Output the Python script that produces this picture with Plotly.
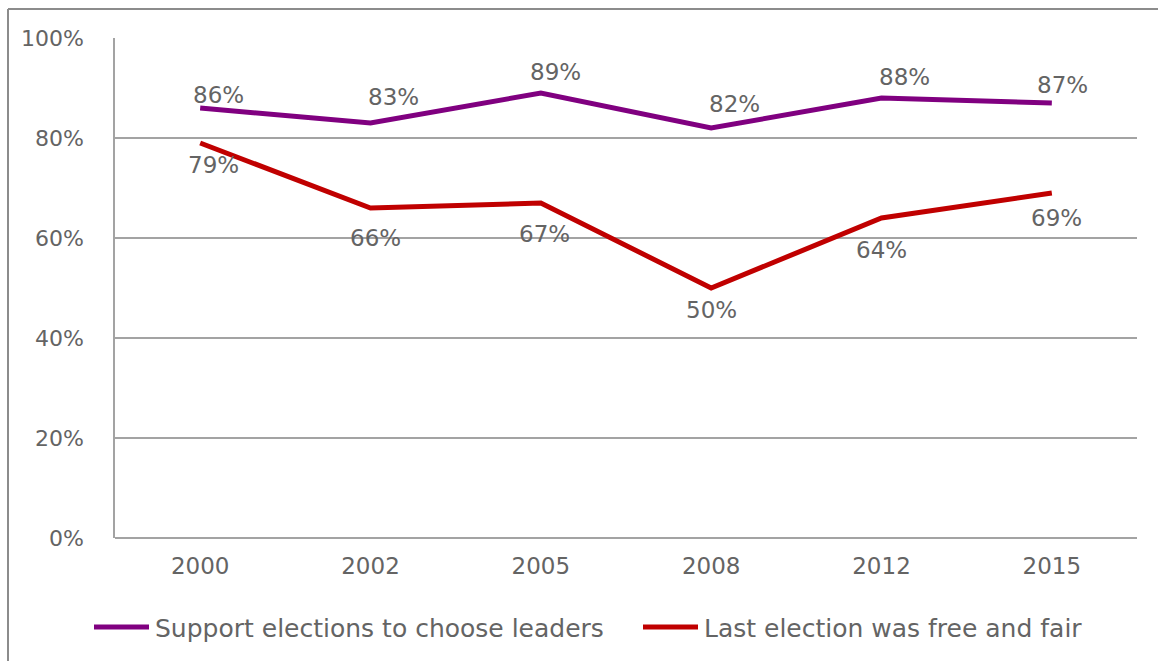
import plotly.graph_objects as go

years = ["2000", "2002", "2005", "2008", "2012", "2015"]
support_elections = [86, 83, 89, 82, 88, 87]
free_and_fair = [79, 66, 67, 50, 64, 69]
y_ticks = [0, 20, 40, 60, 80, 100]
y_tick_labels = ["0%", "20%", "40%", "60%", "80%", "100%"]

W, H = 1158, 661
L, R, T, B = 115, 21, 38, 123
pw, ph = W - L - R, H - T - B

def px(x):
    return (x - L) / pw

def py(y):
    return (H - B - y) / ph

FONT = "DejaVu Sans"
GRAY_TEXT = "#646464"
GRID = "#a3a3a3"
PURPLE = "#800080"
RED = "#C00000"

# label offsets in pixels (right, down) from each point
support_offsets = [(18, -13), (23, -26), (15, -21), (23, -24), (23, -21), (11, -18)]
fair_offsets = [(13, 22), (5, 30), (4, 31), (0, 22), (0, 32), (5, 25)]

fig = go.Figure()
fig.add_trace(go.Scatter(
    x=years, y=support_elections, mode="lines",
    name="Support elections to choose leaders",
    line=dict(color=PURPLE, width=5), showlegend=False,
))
fig.add_trace(go.Scatter(
    x=years, y=free_and_fair, mode="lines",
    name="Last election was free and fair",
    line=dict(color=RED, width=5), showlegend=False,
))

annotations = []
for vals, offs in ((support_elections, support_offsets), (free_and_fair, fair_offsets)):
    # category axis position = index of the year
    for i, (v, (dx, dy)) in enumerate(zip(vals, offs)):
        annotations.append(dict(
            x=i, y=v, xref="x", yref="y", text=f"{v}%", showarrow=False,
            xshift=dx, yshift=-dy, xanchor="center", yanchor="middle",
            font=dict(family=FONT, size=23, color=GRAY_TEXT),
        ))

# legend drawn as line samples with text
legend_items = [
    ("Support elections to choose leaders", PURPLE, 94, 149, 153),
    ("Last election was free and fair", RED, 643, 698, 702),
]
shapes = []
for label, color, lx0, lx1, tx in legend_items:
    shapes.append(dict(type="line", xref="paper", yref="paper",
                       x0=px(lx0), x1=px(lx1), y0=py(627), y1=py(627),
                       line=dict(color=color, width=5)))
    annotations.append(dict(
        x=px(tx), y=py(628), xref="paper", yref="paper", text=label,
        showarrow=False, xanchor="left", yanchor="middle",
        font=dict(family=FONT, size=25, color=GRAY_TEXT),
    ))

# outer chart frame
shapes.append(dict(type="line", xref="paper", yref="paper",
                   x0=px(8), x1=px(W + 5), y0=py(9), y1=py(9),
                   line=dict(color="#8c8c8c", width=2)))
shapes.append(dict(type="line", xref="paper", yref="paper",
                   x0=px(8), x1=px(8), y0=py(9), y1=py(H + 5),
                   line=dict(color="#8c8c8c", width=2)))

fig.update_layout(
    width=W, height=H,
    margin=dict(l=L, r=R, t=T, b=B),
    paper_bgcolor="white", plot_bgcolor="white",
    font=dict(family=FONT, size=23, color=GRAY_TEXT),
    showlegend=False,
    annotations=annotations,
    shapes=shapes,
    xaxis=dict(type="category", range=[-0.5, 5.5], showgrid=False,
               showline=False, ticks="", ticklabelstandoff=12,
               tickfont=dict(family=FONT, size=23, color=GRAY_TEXT)),
    yaxis=dict(range=[0, 100], tickvals=y_ticks, ticktext=y_tick_labels,
               showgrid=True, gridcolor=GRID, gridwidth=1.5,
               zeroline=True, zerolinecolor=GRID, zerolinewidth=1.5,
               showline=True, linecolor=GRID, linewidth=1.5,
               ticks="", ticklabelstandoff=25,
               tickfont=dict(family=FONT, size=22, color=GRAY_TEXT)),
)

fig.write_html("out.html")
